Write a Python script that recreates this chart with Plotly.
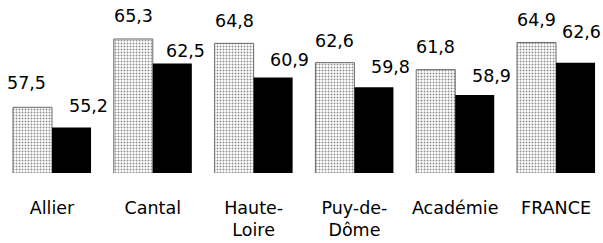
import plotly.graph_objects as go

categories = ["Allier", "Cantal", "Haute-<br>Loire", "Puy-de-<br>Dôme", "Académie", "FRANCE"]
series_a = [57.5, 65.3, 64.8, 62.6, 61.8, 64.9]   # dotted bars
series_b = [55.2, 62.5, 60.9, 59.8, 58.9, 62.6]   # black bars

def fmt(v):
    return f"{v:.1f}".replace(".", ",")

# label placement tweaks (pixels), style only
a_dx = [-6, 0, 0, 0, 0, 0]
a_dy = [24, 23, 22, 22, 22.5, 22]
b_dx = [16.5, 13.5, 16, 16.5, 17, 6]
b_dy = [21, 13, 18, 20, 19.5, 31]

FONT = "DejaVu Sans"
FS = 17.5
idx = list(range(len(categories)))
bargap = 0.226
half = (1 - bargap) / 4

fig = go.Figure()
fig.add_trace(go.Bar(
    x=idx, y=series_a,
    marker=dict(color="white",
                line=dict(color="#6a6a6a", width=1),
                pattern=dict(shape=".", size=3, solidity=0.35, fgcolor="#1e1e1e", bgcolor="white")),
    showlegend=False, hoverinfo="skip",
))
fig.add_trace(go.Bar(
    x=idx, y=series_b,
    marker=dict(color="black", line=dict(color="black", width=0)),
    showlegend=False, hoverinfo="skip",
))

annotations = []
for i, v in enumerate(series_a):
    annotations.append(dict(x=i - half, y=v, text=fmt(v), showarrow=False,
                            xanchor="center", yanchor="middle",
                            xshift=a_dx[i], yshift=a_dy[i],
                            font=dict(family=FONT, size=FS, color="black")))
for i, v in enumerate(series_b):
    annotations.append(dict(x=i + half, y=v, text=fmt(v), showarrow=False,
                            xanchor="center", yanchor="middle",
                            xshift=b_dx[i], yshift=b_dy[i],
                            font=dict(family=FONT, size=FS, color="black")))

fig.update_layout(
    width=603, height=243,
    margin=dict(l=0, r=0, t=0, b=70),
    paper_bgcolor="white", plot_bgcolor="white",
    barmode="group", bargap=bargap, bargroupgap=0,
    annotations=annotations,
    xaxis=dict(range=[-0.516, 5.466], tickmode="array", tickvals=idx, ticktext=categories,
               showgrid=False, zeroline=False, showline=False, ticks="",
               tickfont=dict(family=FONT, size=FS, color="black"),
               ticklabelstandoff=22),
    yaxis=dict(range=[50, 69.75], visible=False, showgrid=False, zeroline=False),
    font=dict(family=FONT),
)

fig.write_html("out.html", config={"displayModeBar": False},
               post_script="document.body.style.margin='0';")
